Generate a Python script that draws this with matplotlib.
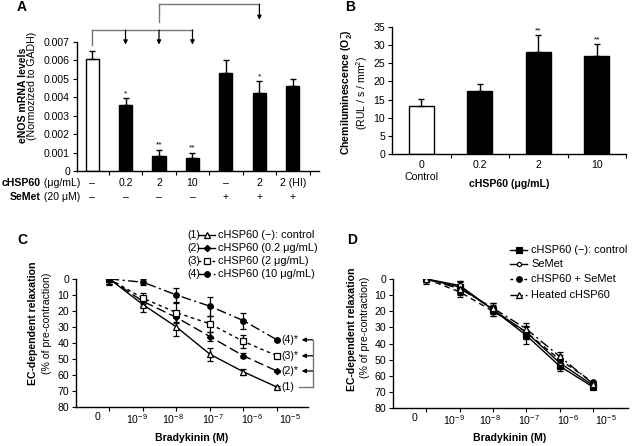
import numpy as np
import matplotlib
matplotlib.use("Agg")
import matplotlib.pyplot as plt
from matplotlib.lines import Line2D
from matplotlib.transforms import blended_transform_factory

plt.rcParams['font.family'] = ['Liberation Sans', 'DejaVu Sans']
plt.rcParams['mathtext.fontset'] = 'custom'
plt.rcParams['mathtext.rm'] = 'Liberation Sans'
plt.rcParams['mathtext.it'] = 'Liberation Sans:italic'
plt.rcParams['mathtext.bf'] = 'Liberation Sans:bold'
plt.rcParams['axes.linewidth'] = 1.0

# ---------------- data ----------------
# Panel A
a_chsp = ["\u2013", "0.2", "2", "10", "\u2013", "2", "2 (HI)"]
a_semet = ["\u2013", "\u2013", "\u2013", "\u2013", "+", "+", "+"]
a_vals = [0.0061, 0.0036, 0.0008, 0.00073, 0.0053, 0.00425, 0.0046]
a_err = [0.0004, 0.00035, 0.00036, 0.00027, 0.00073, 0.00064, 0.0004]
a_sig = ["", "*", "**", "**", "", "*", ""]
a_yticks = [0, 0.001, 0.002, 0.003, 0.004, 0.005, 0.006, 0.007]
a_yticklabels = ["0", "0.001", "0.002", "0.003", "0.004", "0.005", "0.006", "0.007"]

# Panel B
b_labels = ["0\nControl", "0.2", "2", "10"]
b_vals = [13.3, 17.3, 28.0, 27.0]
b_err = [1.9, 2.1, 4.7, 3.2]
b_sig = ["", "", "**", "**"]

# Panels C/D
conc_labels = ["0", r"10$^{-9}$", r"10$^{-8}$", r"10$^{-7}$", r"10$^{-6}$", r"10$^{-5}$"]
c_ctrl = [0, 16, 30, 47, 58, 67.5]
c_ctrl_err = [4, 4.5, 5.5, 4, 2, 0.5]
c_02 = [0, 14, 24, 36, 48, 57.5]
c_02_err = [3, 3, 3.5, 3, 1.5, 0.5]
c_2 = [0, 12, 21, 28, 39, 48]
c_2_err = [3, 3.5, 6, 5, 4, 0.5]
c_10 = [0, 2, 10, 17, 26, 38]
c_10_err = [3, 2, 4.5, 6, 5, 0.5]
c_names = ["cHSP60 (\u2212): control", "cHSP60 (0.2 \u03bcg/mL)",
           "cHSP60 (2 \u03bcg/mL)", "cHSP60 (10 \u03bcg/mL)"]

d_ctrl = [0, 5, 19, 35, 54, 67]
d_ctrl_err = [3, 4, 4, 5, 3, 1.5]
d_semet = [0, 4, 19, 33, 52, 66]
d_semet_err = [2, 3, 3, 4, 3, 1]
d_combo = [0, 8, 20, 33, 50, 64]
d_combo_err = [2, 3, 3, 4, 3, 1]
d_heat = [0, 6, 18, 31, 48, 65]
d_heat_err = [2, 4, 3, 4, 3, 1]
d_names = ["cHSP60 (\u2212): control", "SeMet", "cHSP60 + SeMet", "Heated cHSP60"]

FS = 7.6
W, H = 632, 446
fig = plt.figure(figsize=(W / 100, H / 100), dpi=100)


def fx(px):
    return px / W


def fy(py):
    return 1 - py / H


def box(l, t, r, b):
    return [fx(l), fy(b), fx(r) - fx(l), (b - t) / H]


def style(ax):
    for s in ["top", "right"]:
        ax.spines[s].set_visible(False)
    ax.tick_params(axis="both", labelsize=FS, length=3, width=0.8, pad=2)


gray = "#777777"

# ---------------- Panel A ----------------
axA = fig.add_axes(box(77, 42, 319, 171))
style(axA)
xa = np.arange(len(a_vals))
colorsA = ["white"] + ["black"] * (len(a_vals) - 1)
axA.bar(xa, a_vals, width=0.39, color=colorsA, edgecolor="black", linewidth=1.0, zorder=2)
axA.errorbar(xa, a_vals, yerr=[np.zeros(len(a_err)), a_err], fmt="none",
             ecolor="black", elinewidth=1.0, capsize=2.5, capthick=1.0, zorder=3)
for x, v, e, s in zip(xa, a_vals, a_err, a_sig):
    if s:
        axA.text(x, v + e + 0.00005, s, ha="center", va="bottom", fontsize=6)
axA.set_ylim(0, 0.007)
axA.set_xlim(-0.45, 6.78)
axA.set_yticks(a_yticks)
axA.set_yticklabels(a_yticklabels)
axA.set_xticks(np.arange(len(a_vals)) + 0.5)
axA.set_xticklabels([])
axA.tick_params(axis="x", length=3)
fig.text(fx(23), fy(95), "eNOS mRNA levels", rotation=90, ha="center", va="center",
         fontsize=FS, fontweight="bold")
fig.text(fx(32), fy(86), "(Normozized to GADH)", rotation=90, ha="center", va="center",
         fontsize=FS)
# row labels
trA = blended_transform_factory(axA.transData, fig.transFigure)
for x, lab in zip(xa, a_chsp):
    axA.text(x, fy(183), lab, transform=trA, ha="center", va="center", fontsize=FS)
for x, lab in zip(xa, a_semet):
    axA.text(x, fy(197), lab, transform=trA, ha="center", va="center", fontsize=FS)
t1 = fig.text(fx(80), fy(183), " (\u03bcg/mL)", ha="right", va="center", fontsize=FS)
t2 = fig.text(fx(80), fy(197), " (20 \u03bcM)", ha="right", va="center", fontsize=FS)
fig.canvas.draw()
bb = t1.get_window_extent()
fig.text(bb.x0 / fig.bbox.width, fy(183), "cHSP60", ha="right", va="center",
         fontsize=FS, fontweight="bold")
bb2 = t2.get_window_extent()
fig.text(bb2.x0 / fig.bbox.width, fy(197), "SeMet", ha="right", va="center",
         fontsize=FS, fontweight="bold")

# brackets
y_low = 0.00765
y_arrow_end = 0.00686
y_top = 0.00905
kw = dict(clip_on=False, color=gray, lw=1.0)
axA.plot([xa[0], xa[3]], [y_low, y_low], **kw)
axA.plot([xa[0], xa[0]], [y_low, y_arrow_end], **kw)
for i in (1, 2, 3):
    axA.annotate("", xy=(xa[i], y_arrow_end), xytext=(xa[i], y_low),
                 arrowprops=dict(arrowstyle="-|>", color="black", lw=0.9,
                                 mutation_scale=6, shrinkA=0, shrinkB=0),
                 annotation_clip=False)
axA.plot([xa[2], xa[5]], [y_top, y_top], **kw)
axA.plot([xa[2], xa[2]], [y_top, 0.0081], **kw)
axA.annotate("", xy=(xa[5], 0.0082), xytext=(xa[5], y_top),
             arrowprops=dict(arrowstyle="-|>", color="black", lw=0.9,
                             mutation_scale=6, shrinkA=0, shrinkB=0),
             annotation_clip=False)

# ---------------- Panel B ----------------
axB = fig.add_axes(box(392, 27, 626, 154))
style(axB)
xb = np.arange(len(b_vals))
colorsB = ["white"] + ["black"] * (len(b_vals) - 1)
axB.bar(xb, b_vals, width=0.42, color=colorsB, edgecolor="black", linewidth=1.0, zorder=2)
axB.errorbar(xb, b_vals, yerr=[np.zeros(len(b_err)), b_err], fmt="none",
             ecolor="black", elinewidth=1.0, capsize=2.5, capthick=1.0, zorder=3)
for x, v, e, s in zip(xb, b_vals, b_err, b_sig):
    if s:
        axB.text(x, v + e + 0.3, s, ha="center", va="bottom", fontsize=6)
axB.set_ylim(0, 35)
axB.set_xlim(-0.5, 3.46)
axB.set_yticks(np.arange(0, 36, 5))
axB.set_xticks(xb)
axB.set_xticklabels(b_labels, linespacing=1.35)
axB.tick_params(axis="x", length=0, pad=4)
axB.set_xticks(np.arange(len(b_vals)) + 0.5, minor=True)
axB.tick_params(axis="x", which="minor", length=3, width=0.8)
fig.text(fx(509), fy(184), "cHSP60 (\u03bcg/mL)", ha="center", va="center",
         fontsize=FS, fontweight="bold")
fig.text(fx(346), fy(92), r"Chemiluminescence (O$\mathbf{^{-}_{2}}$)", rotation=90,
         ha="center", va="center", fontsize=FS, fontweight="bold")
fig.text(fx(362), fy(93), r"(RUL / s / mm$^{2}$)", rotation=90, ha="center",
         va="center", fontsize=FS)

# ---------------- Panel C ----------------
xc = np.arange(1, len(conc_labels) + 1)
lab_pos = [0.63, 1.82, 2.9, 4.09, 5.25, 6.39]


def dose_axes(rect, xmax, xcenter):
    ax = fig.add_axes(rect)
    style(ax)
    ax.set_ylim(80, 0)
    ax.set_xlim(0, xmax)
    ax.set_yticks(np.arange(0, 81, 10))
    ax.set_xticks(xc)
    ax.set_xticklabels([])
    ax.set_xticks(lab_pos, minor=True)
    ax.set_xticklabels(conc_labels, minor=True)
    ax.tick_params(axis="x", which="minor", length=0, pad=3.5, labelsize=FS)
    fig.text(fx(xcenter), fy(438), "Bradykinin (M)", ha="center", va="center",
             fontsize=FS, fontweight="bold")
    return ax


axC = dose_axes(box(76, 279, 308, 407), 6.93, 192)
c_series = [c_ctrl, c_02, c_2, c_10]
c_errs = [c_ctrl_err, c_02_err, c_2_err, c_10_err]
c_ls = ["-", (0, (7, 3)), (0, (2.5, 2.5)), (0, (7, 2.5, 1.5, 2.5))]
c_mk = ["^", "D", "s", "o"]
c_mfc = ["white", "black", "white", "black"]
c_ms = [4, 3.2, 3.8, 4]
for ys, es, ls, mk, mfc, ms in zip(c_series, c_errs, c_ls, c_mk, c_mfc, c_ms):
    axC.errorbar(xc, ys, yerr=es, fmt="none", ecolor="black", elinewidth=0.9,
                 capsize=2, capthick=0.9, zorder=2)
    axC.plot(xc, ys, ls=ls, color="black", lw=1.0, marker=mk, mfc=mfc, mec="black",
             ms=ms, mew=0.9, zorder=3)
end_labels = ["(1)", "(2)*", "(3)*", "(4)*"]
for ys, lab in zip(c_series, end_labels):
    axC.annotate(lab, xy=(xc[-1], ys[-1]), xytext=(3, 0), textcoords="offset points",
                 ha="left", va="center", fontsize=FS, annotation_clip=False)
xr = 7.07
axC.plot([xr, xr], [c_10[-1], c_ctrl[-1]], color=gray, lw=1.0, clip_on=False)
axC.plot([6.65, xr], [c_ctrl[-1], c_ctrl[-1]], color=gray, lw=1.0, clip_on=False)
for ys in (c_02, c_2, c_10):
    axC.annotate("", xy=(6.74, ys[-1]), xytext=(xr, ys[-1]),
                 arrowprops=dict(arrowstyle="-|>", color="black", lw=0.9,
                                 mutation_scale=6, shrinkA=0, shrinkB=0,
                                 edgecolor=gray, facecolor="black"),
                 annotation_clip=False)
fig.text(fx(33), fy(323), "EC-dependent relaxation", rotation=90, ha="center",
         va="center", fontsize=FS, fontweight="bold")
fig.text(fx(47), fy(323), "(% of pre-contraction)", rotation=90, ha="center",
         va="center", fontsize=FS)

# legend C (manual)
rows_c = [235, 248, 261, 274]
leg_ls_c = ["-", "-", (0, (2, 3)), (0, (6, 2, 1, 2))]
for k, (name, y) in enumerate(zip(c_names, rows_c)):
    fig.text(fx(187), fy(y), "(%d)" % (k + 1), ha="left", va="center", fontsize=FS)
    fig.add_artist(Line2D([fx(198), fx(215)], [fy(y), fy(y)], color="black", lw=1.0,
                          ls=leg_ls_c[k]))
    fig.add_artist(Line2D([fx(206.5)], [fy(y)], color="black", marker=c_mk[k],
                          mfc=c_mfc[k], mec="black", ms=c_ms[k], mew=0.9, ls="none"))
    fig.text(fx(218), fy(y), name, ha="left", va="center", fontsize=FS + 0.3)

# ---------------- Panel D ----------------
axD = dose_axes(box(393, 279, 628, 408), 7.05, 510)
d_series = [d_ctrl, d_semet, d_combo, d_heat]
d_errs = [d_ctrl_err, d_semet_err, d_combo_err, d_heat_err]
d_ls = ["-", "-", (0, (4, 3)), (0, (7, 2.5, 1.5, 2.5))]
d_mk = ["s", "o", "o", "^"]
d_mfc = ["black", "white", "black", "white"]
d_ms = [4, 3, 4, 4]
for ys, es, ls, mk, mfc, ms in zip(d_series, d_errs, d_ls, d_mk, d_mfc, d_ms):
    axD.errorbar(xc, ys, yerr=es, fmt="none", ecolor="black", elinewidth=0.9,
                 capsize=2, capthick=0.9, zorder=2)
    axD.plot(xc, ys, ls=ls, color="black", lw=1.0, marker=mk, mfc=mfc, mec="black",
             ms=ms, mew=0.9, zorder=3)
fig.text(fx(352), fy(329), "EC-dependent relaxation", rotation=90, ha="center",
         va="center", fontsize=FS, fontweight="bold")
fig.text(fx(365), fy(327), "(% of pre-contraction)", rotation=90, ha="center",
         va="center", fontsize=FS)
rows_d = [250, 264, 279, 295]
leg_ls_d = ["-", "-", (0, (2, 3)), (0, (6, 2, 1, 2))]
for k, (name, y) in enumerate(zip(d_names, rows_d)):
    fig.add_artist(Line2D([fx(510), fx(527)], [fy(y), fy(y)], color="black", lw=1.0,
                          ls=leg_ls_d[k]))
    fig.add_artist(Line2D([fx(518.5)], [fy(y)], color="black", marker=d_mk[k],
                          mfc=d_mfc[k], mec="black", ms=d_ms[k], mew=0.9, ls="none"))
    fig.text(fx(531), fy(y), name, ha="left", va="center", fontsize=FS + 0.3)

# panel letters
for lab, (x, y) in zip("ABCD", [(22, 7), (350, 7), (22, 240), (352, 240)]):
    fig.text(fx(x), fy(y), lab, ha="center", va="center", fontsize=10, fontweight="bold")

fig.savefig("out.png", dpi=100)
